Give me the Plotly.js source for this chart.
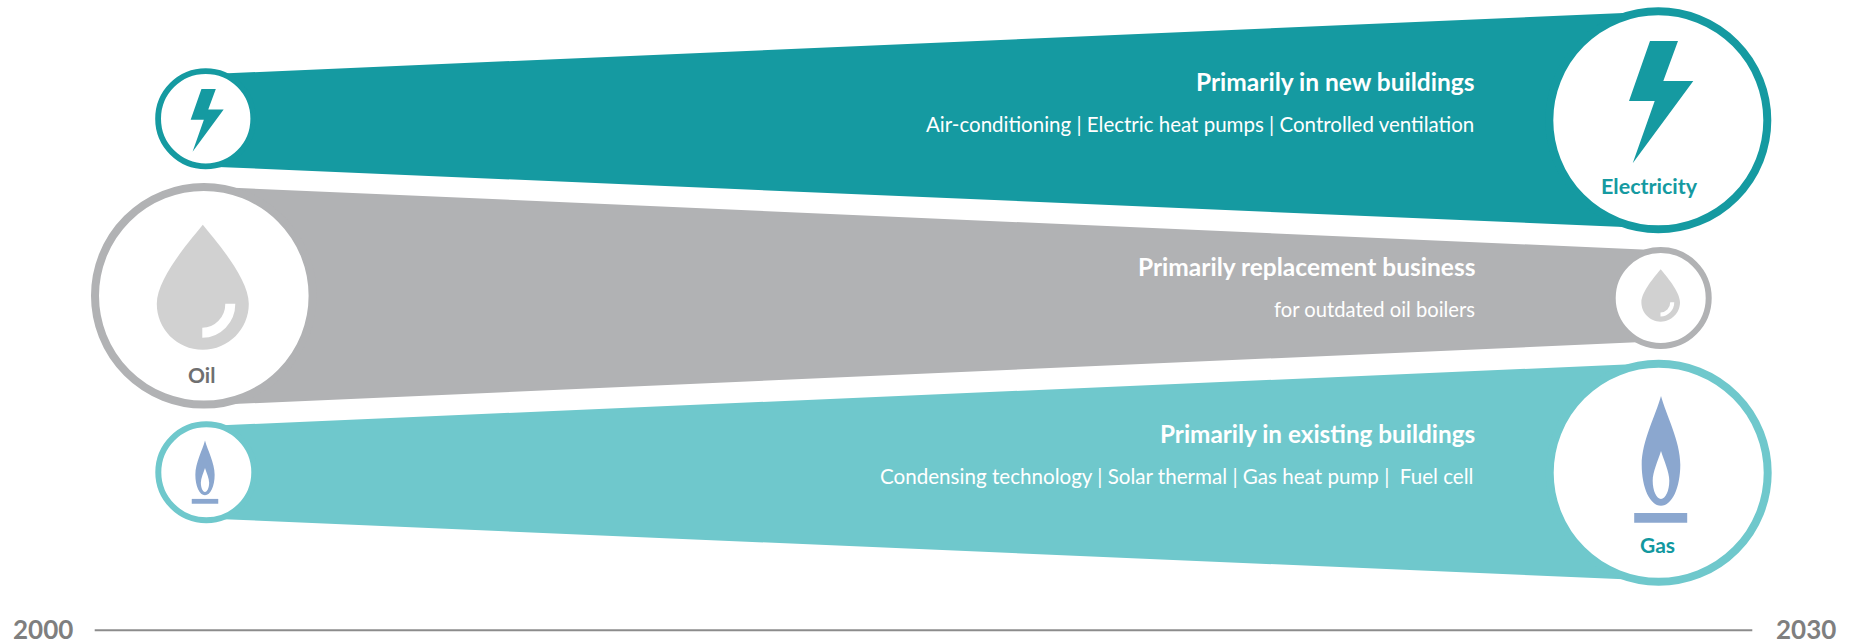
<!DOCTYPE html>
<html>
<head>
<meta charset="utf-8">
<script src="https://cdn.plot.ly/plotly-3.0.1.min.js"></script>
<style>html,body{margin:0;padding:0;background:#fff;overflow:hidden}#chart{width:1852px;height:644px}</style>
</head>
<body>
<div id="chart"></div>
<script>
// ---- data (band edges at each end of the time span) ----
const years = [2000, 2030];
const electricityUpper = [74.3, 11.4];
const electricityLower = [166.4, 228.5];
const oilUpper = [186.5, 250.3];
const oilLower = [405.3, 341.3];
const gasUpper = [426.0, 363.1];
const gasLower = [518.4, 580.8];
const energyNames = ['Electricity', 'Oil', 'Gas'];
const headlines = ['Primarily in new buildings', 'Primarily replacement business', 'Primarily in existing buildings'];
const details = ['Air-conditioning | Electric heat pumps | Controlled ventilation', 'for outdated oil boilers', 'Condensing technology | Solar thermal | Gas heat pump |  Fuel cell'];
const yearLabels = ['2000', '2030'];

// ---- styles ----
const TEAL = '#159aa1', GREY = '#b1b2b4', AQUA = '#6fc8cc', DROP = '#d1d1d1', FLAME = '#8ba7cf';
const FONT = 'Lato, sans-serif';
const W = 1852, H = 644;
const pxPerYear = (1659 - 205.5) / 30;
const X = px => 2000 + (px - 205.5) / pxPerYear;

function band(upper, lower, color) {
  return {type: 'scatter', mode: 'lines', x: [years[0], years[1], years[1], years[0], years[0]],
    y: [upper[0], upper[1], lower[1], lower[0], upper[0]],
    fill: 'toself', fillcolor: color, line: {width: 0, color: color}, hoverinfo: 'skip', showlegend: false};
}
function ring(px, cy, outer, inner, color) {
  return {type: 'scatter', mode: 'markers', x: [X(px)], y: [cy], hoverinfo: 'skip', showlegend: false,
    marker: {size: outer + inner, color: '#ffffff', opacity: 1, line: {width: outer - inner, color: color}}};
}
const traces = [
  band(electricityUpper, electricityLower, TEAL),
  band(oilUpper, oilLower, GREY),
  band(gasUpper, gasLower, AQUA),
  ring(205.7, 118.7, 50.5, 44.7, TEAL),
  ring(1658.3, 120.3, 113, 105, TEAL),
  ring(203.8, 295.8, 112.8, 104.8, GREY),
  ring(1660.7, 298, 51, 45, GREY),
  ring(206.3, 472.3, 51, 45, AQUA),
  ring(1658.7, 472.8, 113, 105, AQUA),
  {type: 'scatter', mode: 'lines', x: [X(94.7), X(1752.3)], y: [630.3, 630.3], line: {color: '#8c8c8c', width: 2}, hoverinfo: 'skip', showlegend: false}
];

// icon outlines: y grows downward here and is flipped for the pixel-sized shape
function path(cmds, s, dx, dy) {
  return cmds.map(c => {
    const a = [c[0]];
    for (let i = 1; i < c.length; i += 2) a.push((c[i] * s + dx).toFixed(2) + ',' + (-(c[i + 1] * s + dy)).toFixed(2));
    return a.join(' ').replace(/^(\w) /, '$1');
  }).join(' ');
}
const boltCmds = [['M',-8.3,-79.3],['L',19.7,-79.3],['L',5,-39.3],['L',35,-39.3],['L',-25.6,43],['L',-3.6,-19.3],['L',-29.3,-19.3],['Z']];
const dropCmds = [['M',0,-71],['C',12,-56,46,-18,46,8],['C',46,33,26,54,0,54],['C',-26,54,-46,33,-46,8],['C',-46,-18,-12,-56,0,-71],['Z']];
const shineCmds = [['M',27.5,8],['C',27.5,24,15,37,-0.5,37]];
const flameCmds = [['M',0,-76.8],['C',5,-58,19.3,-32,19.3,-8],['C',19.3,15,11,33,0,33],['C',-11,33,-19.3,15,-19.3,-8],['C',-19.3,-32,-5,-58,0,-76.8],['Z'],
                   ['M',0,-21.8],['C',3,-12,8.3,-1,8.3,8],['C',8.3,18,4.5,26.2,0,26.2],['C',-4.5,26.2,-8.3,18,-8.3,8],['C',-8.3,-1,-3,-12,0,-21.8],['Z']];
const baseCmds = [['M',-26.5,40.2],['L',26.5,40.2],['L',26.5,49.9],['L',-26.5,49.9],['Z']];

function icon(px, cy, cmds, s, dx, dy, fill, stroke, sw) {
  return {type: 'path', layer: 'above', xref: 'x', yref: 'y', xsizemode: 'pixel', ysizemode: 'pixel',
    xanchor: X(px), yanchor: cy, path: path(cmds, s, dx, dy), fillcolor: fill || 'rgba(0,0,0,0)', fillrule: 'evenodd',
    line: {width: sw || 0, color: stroke || 'rgba(0,0,0,0)'}};
}
const shapes = [
  icon(205.7, 118.7, boltCmds, 0.513, 0, 11, TEAL),
  icon(1658.3, 120.3, boltCmds, 1, 0, 0, TEAL),
  icon(203.8, 295.8, dropCmds, 1, -1, 0, DROP),
  icon(203.8, 295.8, shineCmds, 1, -1, 0, null, '#ffffff', 10),
  icon(1660.7, 298, dropCmds, 0.42, 0, 1, DROP),
  icon(1660.7, 298, shineCmds, 0.42, 0, 1, null, '#ffffff', 4),
  icon(206.3, 472.3, flameCmds, 0.5, -1.3, 6.5, FLAME),
  icon(206.3, 472.3, baseCmds, 0.5, -1.3, 6.5, FLAME),
  icon(1658.7, 472.8, flameCmds, 1, 2.3, 0, FLAME),
  icon(1658.7, 472.8, baseCmds, 1, 2, 0, FLAME)
];

function label(text, px, baseline, size, color, anchor, bold) {
  return {text: bold ? '<b>' + text + '</b>' : text, x: X(px), y: baseline - size * 0.35, xref: 'x', yref: 'y', xanchor: anchor, yanchor: 'middle',
    showarrow: false, borderpad: 0, borderwidth: 0, font: {family: FONT, size: size, color: color}};
}
const annotations = [
  label(headlines[0], 1475, 89.7, 24.5, '#ffffff', 'right', true),
  label(details[0], 1474, 131, 20.5, '#ffffff', 'right', false),
  label(headlines[1], 1474.5, 275.5, 24.5, '#ffffff', 'right', true),
  label(details[1], 1475, 316, 20.2, '#ffffff', 'right', false),
  label(headlines[2], 1475, 442.2, 24.3, '#ffffff', 'right', true),
  label(details[2], 1473, 483.3, 20.6, '#ffffff', 'right', false),
  label(energyNames[0], 1649.5, 193.7, 21.5, TEAL, 'center', true),
  label(energyNames[1], 201, 382, 21, '#6f6f70', 'center', true),
  label(energyNames[2], 1657, 552.3, 21, '#12989f', 'center', true),
  label(yearLabels[0], 43, 637.7, 26, '#7f7f7f', 'center', true),
  label(yearLabels[1], 1806.3, 637.7, 26, '#7f7f7f', 'center', true)
];

const layout = {
  width: W, height: H, margin: {l: 0, r: 0, t: 0, b: 0}, paper_bgcolor: '#ffffff', plot_bgcolor: '#ffffff', showlegend: false,
  xaxis: {range: [X(0), X(W)], visible: false, fixedrange: true},
  yaxis: {range: [H, 0], visible: false, fixedrange: true},
  shapes: shapes, annotations: annotations
};
Plotly.newPlot('chart', traces, layout, {displayModeBar: false, staticPlot: true});
</script>
</body>
</html>
